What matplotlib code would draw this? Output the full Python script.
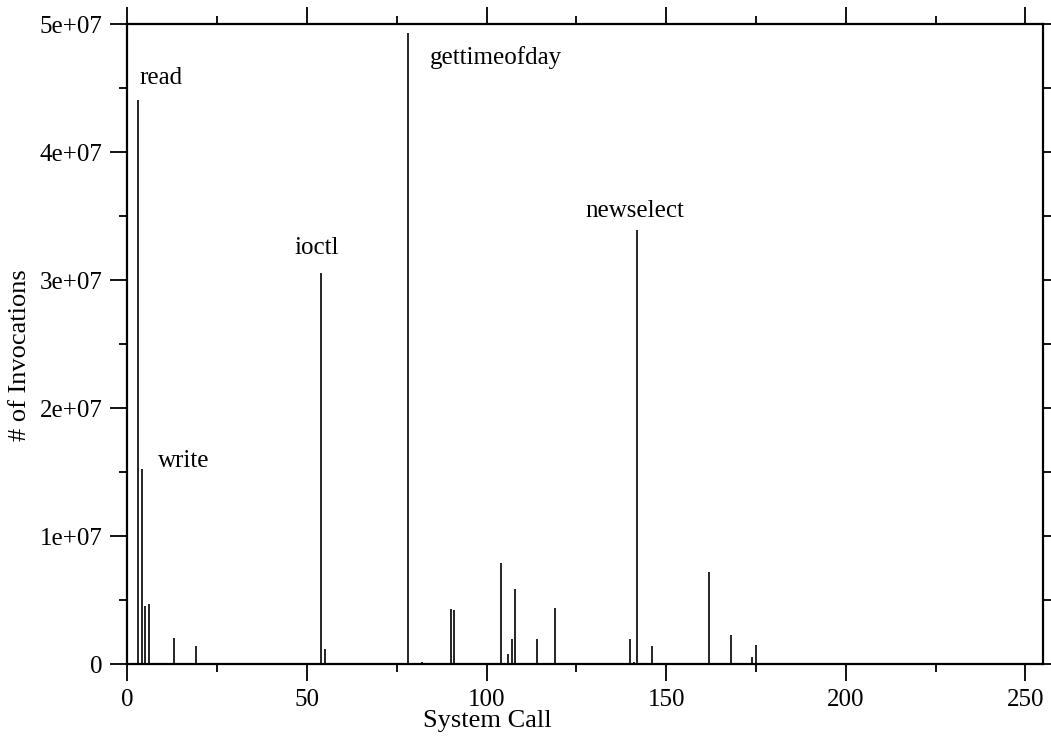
import matplotlib
matplotlib.use("Agg")
import matplotlib.pyplot as plt
from matplotlib.ticker import MultipleLocator, FuncFormatter

# system call numbers and invocation counts
syscall = [3, 4, 5, 6, 13, 19, 24, 45, 54, 55, 78, 82, 85, 90, 91, 102,
           104, 106, 107, 108, 114, 119, 140, 141, 142, 146, 162, 168,
           174, 175, 178]
counts = [44.1e6, 15.2e6, 4.5e6, 4.66e6, 2.0e6, 1.38e6, 0.05e6, 0.05e6,
          30.57e6, 1.15e6, 49.3e6, 0.13e6, 0.05e6, 4.27e6, 4.2e6, 0.05e6,
          7.86e6, 0.76e6, 1.95e6, 5.9e6, 1.95e6, 4.37e6, 1.95e6, 0.16e6,
          33.9e6, 1.38e6, 7.2e6, 2.24e6, 0.52e6, 1.48e6, 0.05e6]

# annotations: name, x, y
labels = ["read", "write", "ioctl", "gettimeofday", "newselect"]
label_x = [3.4, 8.6, 46.5, 84.3, 127.4]
label_y = [45.3e6, 15.4e6, 32.0e6, 46.9e6, 34.9e6]

plt.rcParams['font.family'] = ['Liberation Serif', 'DejaVu Serif']

fig = plt.figure(figsize=(10.51, 7.44), dpi=100)
ax = fig.add_axes([0.1213, 0.1075, 0.8714, 0.8602])

ax.vlines(syscall, 0, counts, colors='black', linewidth=1.2)

for name, x, y in zip(labels, label_x, label_y):
    ax.text(x, y, name, fontsize=18, ha='left', va='baseline')

ax.set_xlim(0, 255)
ax.set_ylim(0, 5e7)

ax.xaxis.set_major_locator(MultipleLocator(50))
ax.xaxis.set_minor_locator(MultipleLocator(25))
ax.yaxis.set_major_locator(MultipleLocator(1e7))
ax.yaxis.set_minor_locator(MultipleLocator(5e6))


def sci(v, pos):
    if v == 0:
        return "0"
    return "%de+%02d" % (round(v / 1e7), 7)


ax.yaxis.set_major_formatter(FuncFormatter(sci))

ax.tick_params(which='both', direction='out', top=True, right=True,
               labelsize=18, width=1.3, colors='black')
ax.tick_params(which='major', length=12, pad=6)
ax.tick_params(which='minor', length=6)

for s in ax.spines.values():
    s.set_linewidth(1.6)

# axis titles are not centred on the axes in the original
fig.text(487 / 1051, 1 - 721 / 744, "System Call", fontsize=19,
         ha='center', va='center')
fig.text(20 / 1051, 1 - 355 / 744, "# of Invocations", fontsize=19,
         ha='center', va='center', rotation=90)

fig.savefig("out.png", dpi=100)
